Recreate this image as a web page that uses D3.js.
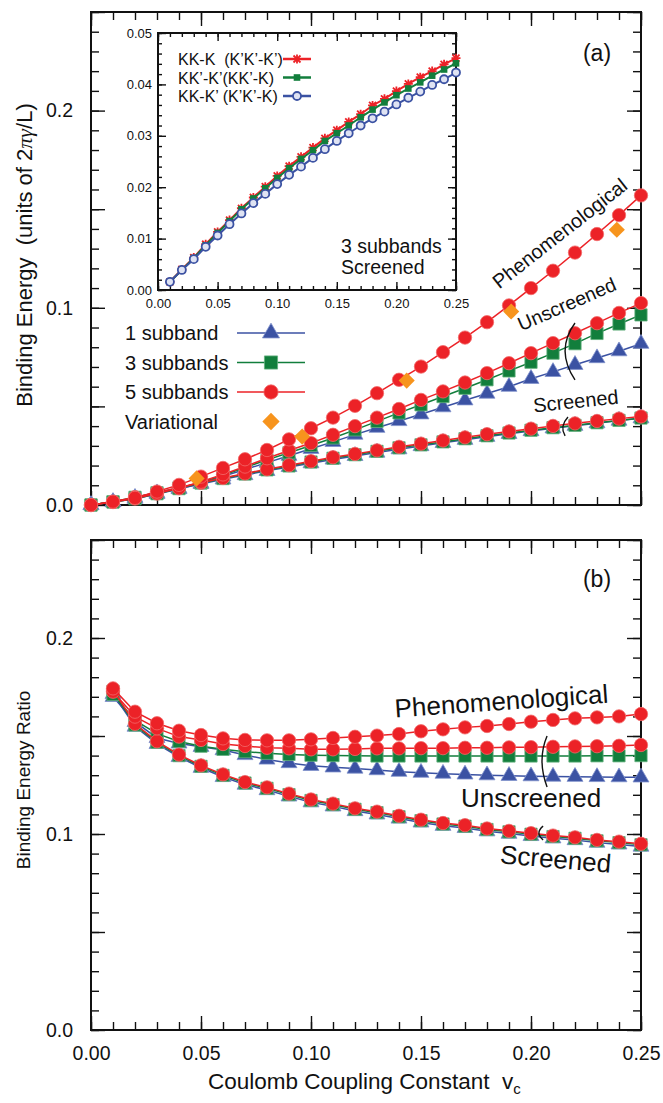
<!DOCTYPE html>
<html><head><meta charset="utf-8">
<script src="https://cdn.jsdelivr.net/npm/d3@7"></script>
<style>
body{margin:0;background:#fff}
svg{display:block}
text{white-space:pre}
</style>
</head><body>
<svg id="c" width="663" height="1103"></svg>
<script>
// ---------------- data ----------------
const vc = [0.00,0.01,0.02,0.03,0.04,0.05,0.06,0.07,0.08,0.09,0.10,0.11,0.12,0.13,0.14,0.15,0.16,0.17,0.18,0.19,0.20,0.21,0.22,0.23,0.24,0.25];
// (a) binding energy, screened
const be1Scr = [0,0.0015,0.0037,0.0060,0.0084,0.0107,0.0130,0.0152,0.0173,0.0193,0.0212,0.0231,0.0249,0.0266,0.0283,0.0299,0.0315,0.0331,0.0346,0.0361,0.0375,0.0389,0.0402,0.0415,0.0428,0.0440];
const be3Scr = [0,0.0016,0.0039,0.0062,0.0087,0.0111,0.0134,0.0157,0.0178,0.0198,0.0218,0.0237,0.0255,0.0272,0.0290,0.0305,0.0320,0.0336,0.0351,0.0365,0.0379,0.0392,0.0404,0.0417,0.0429,0.0441];
const be5Scr = [0,0.0016,0.0040,0.0063,0.0089,0.0113,0.0137,0.0160,0.0181,0.0202,0.0222,0.0242,0.0259,0.0277,0.0295,0.0311,0.0327,0.0343,0.0359,0.0373,0.0387,0.0401,0.0414,0.0426,0.0438,0.0449];
// (a) binding energy, unscreened
const be1Un = [0,0.0015,0.0032,0.0056,0.0081,0.0110,0.0145,0.0180,0.0215,0.0250,0.0285,0.0320,0.0357,0.0392,0.0426,0.0460,0.0496,0.0531,0.0565,0.0600,0.0640,0.0675,0.0711,0.0745,0.0780,0.0818];
const be3Un = [0,0.0015,0.0032,0.0057,0.0083,0.0115,0.0151,0.0190,0.0229,0.0265,0.0302,0.0340,0.0381,0.0424,0.0467,0.0508,0.0550,0.0592,0.0635,0.0680,0.0724,0.0770,0.0818,0.0870,0.0918,0.0964];
const be5Un = [0,0.0015,0.0033,0.0058,0.0085,0.0118,0.0155,0.0195,0.0237,0.0276,0.0314,0.0356,0.0400,0.0443,0.0487,0.0533,0.0576,0.0621,0.0669,0.0719,0.0770,0.0821,0.0871,0.0922,0.0974,0.1024];
// (a) phenomenological (5 subbands)
const bePhen = [0,0.0017,0.0036,0.0068,0.0102,0.0144,0.0188,0.0232,0.0279,0.0333,0.0389,0.0443,0.0503,0.0567,0.0635,0.0702,0.0775,0.0849,0.0927,0.1012,0.1100,0.1188,0.1280,0.1374,0.1470,0.1570];
// (a) variational
const varVc = [0.048,0.096,0.1435,0.191,0.239];
const varBe = [0.0135,0.0347,0.0631,0.0981,0.1396];
// inset: 3 subbands screened
const vcIn = [0.01,0.02,0.03,0.04,0.05,0.06,0.07,0.08,0.09,0.10,0.11,0.12,0.13,0.14,0.15,0.16,0.17,0.18,0.19,0.20,0.21,0.22,0.23,0.24,0.25];
const inKKK = [0.0016,0.0040,0.0063,0.0089,0.0113,0.0136,0.0159,0.0180,0.0201,0.0222,0.0241,0.0259,0.0277,0.0295,0.0311,0.0327,0.0342,0.0359,0.0372,0.0387,0.0401,0.0414,0.0426,0.0439,0.0451];
const inKKpKp = [0.0016,0.0039,0.0062,0.0087,0.0111,0.0134,0.0157,0.0178,0.0198,0.0218,0.0237,0.0255,0.0272,0.0290,0.0305,0.0320,0.0336,0.0351,0.0365,0.0379,0.0392,0.0404,0.0417,0.0429,0.0441];
const inKKKp = [0.0016,0.0039,0.0060,0.0084,0.0106,0.0128,0.0149,0.0169,0.0187,0.0206,0.0224,0.0240,0.0257,0.0274,0.0290,0.0305,0.0320,0.0334,0.0347,0.0361,0.0374,0.0386,0.0399,0.0410,0.0423];
const insetLegend = ["KK-K  (K\u2019K\u2019-K\u2019)", "KK\u2019-K\u2019(KK\u2019-K)", "KK-K\u2019 (K\u2019K\u2019-K)"];
// (b) binding energy ratio
const vcR = [0.01,0.02,0.03,0.04,0.05,0.06,0.07,0.08,0.09,0.10,0.11,0.12,0.13,0.14,0.15,0.16,0.17,0.18,0.19,0.20,0.21,0.22,0.23,0.24,0.25];
const rPhen = [0.1743,0.1624,0.1565,0.1527,0.1505,0.1488,0.1480,0.1478,0.1478,0.1483,0.1490,0.1496,0.1502,0.1510,0.1524,0.1534,0.1544,0.1551,0.1561,0.1573,0.1582,0.1590,0.1595,0.1600,0.1612];
const rUn5 = [0.1726,0.1599,0.1539,0.1497,0.1480,0.1459,0.1449,0.1440,0.1437,0.1432,0.1432,0.1434,0.1437,0.1437,0.1438,0.1438,0.1440,0.1440,0.1442,0.1443,0.1445,0.1447,0.1448,0.1450,0.1454];
const rUn3 = [0.1712,0.1580,0.1512,0.1472,0.1448,0.1432,0.1420,0.1412,0.1406,0.1402,0.1400,0.1399,0.1398,0.1398,0.1398,0.1398,0.1398,0.1398,0.1398,0.1398,0.1398,0.1398,0.1399,0.1399,0.1400];
const rUn1 = [0.1700,0.1572,0.1490,0.1462,0.1445,0.1428,0.1403,0.1380,0.1362,0.1348,0.1340,0.1334,0.1326,0.1318,0.1313,0.1308,0.1304,0.1300,0.1297,0.1295,0.1293,0.1292,0.1291,0.1290,0.1289];
const rScr5 = [0.1735,0.1562,0.1473,0.1405,0.1350,0.1304,0.1265,0.1238,0.1206,0.1176,0.1155,0.1131,0.1114,0.1093,0.1073,0.1056,0.1045,0.1028,0.1016,0.1004,0.0992,0.0983,0.0970,0.0961,0.0950];
const rScr3 = [0.1728,0.1556,0.1468,0.1400,0.1345,0.1299,0.1260,0.1233,0.1201,0.1171,0.1150,0.1126,0.1109,0.1088,0.1068,0.1051,0.1040,0.1023,0.1011,0.0999,0.0987,0.0978,0.0965,0.0956,0.0945];
const rScr1 = [0.1715,0.1548,0.1460,0.1393,0.1338,0.1291,0.1252,0.1224,0.1192,0.1162,0.1141,0.1117,0.1100,0.1079,0.1059,0.1042,0.1031,0.1014,0.1002,0.0990,0.0978,0.0969,0.0956,0.0947,0.0936];
// ticks / labels
const xMajor = [0,0.05,0.10,0.15,0.20,0.25];
const yMajor = [0,0.05,0.10,0.15,0.20,0.25];
const yLabelled = [0,0.1,0.2];
const yInMajor = [0,0.01,0.02,0.03,0.04,0.05];
const legendLabels = ["1 subband","3 subbands","5 subbands","Variational"];

// ---------------- drawing ----------------
const FONT = '"Liberation Sans", Arial, Helvetica, sans-serif';
const RED = "#ec2227", GREEN = "#127e3c", BLUE = "#3b52a3", ORANGE = "#f7941d", INK = "#111";
const svg = d3.select("#c");

const x = d3.scaleLinear().domain([0,0.25]).range([91,641]);
const yT = d3.scaleLinear().domain([0,0.25]).range([505,12]);
const yB = d3.scaleLinear().domain([0,0.25]).range([1030,540]);
const xi = d3.scaleLinear().domain([0,0.25]).range([158,456]);
const yi = d3.scaleLinear().domain([0,0.05]).range([290,33]);

const minorX = d3.range(0,0.2501,0.01);
const minorY = d3.range(0,0.2501,0.01);

function axisG(gen, tx, ty, fs){
  const g = svg.append("g").attr("transform",`translate(${tx},${ty})`).call(gen);
  g.select(".domain").remove();
  g.attr("font-family",FONT).attr("font-size",fs||19);
  g.selectAll("line").attr("stroke",INK).attr("stroke-width",1.4);
  g.selectAll("text").attr("fill",INK);
  return g;
}
const isLab = d => yLabelled.some(v => Math.abs(v-d)<1e-9);

function panelAxes(ys, xLabels){
  const y0 = ys.range()[0], y1 = ys.range()[1];
  axisG(d3.axisLeft(ys).tickValues(minorY).tickSize(-8).tickFormat(""), 91, 0);
  axisG(d3.axisLeft(ys).tickValues(yMajor).tickSize(-14).tickPadding(18).tickFormat(d=>isLab(d)?d3.format(".1f")(d):""), 91, 0, 19.5);
  axisG(d3.axisRight(ys).tickValues(minorY).tickSize(-8).tickFormat(""), 641, 0);
  axisG(d3.axisRight(ys).tickValues(yMajor).tickSize(-14).tickFormat(""), 641, 0);
  axisG(d3.axisTop(x).tickValues(minorX).tickSize(-8).tickFormat(""), 0, y1);
  axisG(d3.axisTop(x).tickValues(xMajor).tickSize(-14).tickFormat(""), 0, y1);
  axisG(d3.axisBottom(x).tickValues(minorX).tickSize(-8).tickFormat(""), 0, y0);
  axisG(d3.axisBottom(x).tickValues(xMajor).tickSize(-14).tickPadding(16)
        .tickFormat(xLabels ? d3.format(".2f") : ""), 0, y0, 19.5);
  svg.append("rect").attr("x",91).attr("y",y1).attr("width",550).attr("height",y0-y1)
     .attr("fill","none").attr("stroke",INK).attr("stroke-width",2);
}

const shapes = {
  circle:  {type:d3.symbolCircle, size:140, fill:RED, stroke:"#f26a6a", rot:0},
  square:  {type:d3.symbolSquare, size:150, fill:GREEN, stroke:"#62b07c", rot:0},
  triangle:{type:d3.symbolTriangle, size:110, fill:BLUE, stroke:"#7f91cc", rot:0},
  diamond: {type:d3.symbolSquare, size:130, fill:ORANGE, stroke:"none", rot:45}
};
function markers(xs, vals, ys, shp, xsc){
  const s = shapes[shp], sc = xsc || x;
  svg.append("g").selectAll("path").data(vals).join("path")
    .attr("transform",(d,i)=>`translate(${sc(xs[i])},${ys(d)}) rotate(${s.rot})`)
    .attr("d", d3.symbol().type(s.type).size(s.size)())
    .attr("fill", s.fill).attr("stroke", s.stroke).attr("stroke-width", 0.8);
}
function series(xs, vals, ys, color, shp){
  const line = d3.line().x((d,i)=>x(xs[i])).y(d=>ys(d));
  svg.append("path").datum(vals).attr("d",line).attr("fill","none")
     .attr("stroke",color).attr("stroke-width",1.5);
  markers(xs, vals, ys, shp);
}

// ---- panel (a) ----
panelAxes(yT, false);
series(vc, be1Scr, yT, BLUE, "triangle");
series(vc, be1Un, yT, BLUE, "triangle");
series(vc, be3Scr, yT, GREEN, "square");
series(vc, be3Un, yT, GREEN, "square");
series(vc, be5Scr, yT, RED, "circle");
series(vc, be5Un, yT, RED, "circle");
series(vc, bePhen, yT, RED, "circle");
markers(varVc, varBe, yT, "diamond");

// legend (a)
const legShapes = ["triangle","square","circle","diamond"];
const legColors = [BLUE, GREEN, RED, null];
legendLabels.forEach((lab,i)=>{
  const cy = 333 + i*29.5;
  svg.append("text").attr("x",125).attr("y",cy+7).attr("font-family",FONT)
     .attr("font-size",20).attr("fill",INK).text(lab);
  if (legColors[i]) svg.append("line").attr("x1",237).attr("x2",305).attr("y1",cy).attr("y2",cy)
     .attr("stroke",legColors[i]).attr("stroke-width",1.5);
  const s = shapes[legShapes[i]];
  svg.append("path").attr("transform",`translate(271,${cy}) rotate(${s.rot})`)
     .attr("d", d3.symbol().type(s.type).size(s.size*1.15)())
     .attr("fill",s.fill).attr("stroke",s.stroke).attr("stroke-width",0.8);
});

svg.append("text").attr("x",597).attr("y",61).attr("text-anchor","middle")
   .attr("font-family",FONT).attr("font-size",23).attr("fill",INK).text("(a)");

function rotText(txt, px, py, ang, fs){
  svg.append("text").attr("transform",`translate(${px},${py}) rotate(${ang})`)
     .attr("text-anchor","middle").attr("font-family",FONT).attr("font-size",fs)
     .attr("fill",INK).text(txt);
}
rotText("Phenomenological", x(0.215), yT(0.135), -38, 20);
rotText("Unscreened", x(0.2175), yT(0.0987), -23.5, 19.5);
rotText("Screened", x(0.2207), yT(0.0492), -6, 20);

function bracket(xt, yt_, xl, ym, xb, yb_){
  const cx = 2*xl - (xt+xb)/2;
  svg.append("path").attr("d",`M${xt},${yt_} Q${cx},${ym} ${xb},${yb_}`)
     .attr("fill","none").attr("stroke",INK).attr("stroke-width",1.4);
}
bracket(x(0.2200), yT(0.0923), x(0.2155), yT(0.0786), x(0.2200), yT(0.0634));
bracket(x(0.2168), yT(0.0446), x(0.2145), yT(0.0398), x(0.2155), yT(0.0350));

// y label (a)
const yl = svg.append("text").attr("transform","translate(32,255) rotate(-90)")
   .attr("text-anchor","middle").attr("font-family",FONT).attr("font-size",22).attr("fill",INK);
yl.append("tspan").text("Binding Energy  (units of 2");
yl.append("tspan").attr("font-family",'"Liberation Serif", serif').attr("font-style","italic").text("\u03c0\u03b3");
yl.append("tspan").text("/L)");

// ---- inset ----
svg.append("rect").attr("x",158).attr("y",33).attr("width",298).attr("height",257).attr("fill","#fff");
const inMinorX = d3.range(0,0.2501,0.01), inMinorY = d3.range(0,0.05001,0.002);
axisG(d3.axisBottom(xi).tickValues(inMinorX).tickSize(-4).tickFormat(""),0,290);
axisG(d3.axisBottom(xi).tickValues(xMajor).tickSize(-8).tickPadding(9).tickFormat(d3.format(".2f")),0,290,13);
axisG(d3.axisTop(xi).tickValues(inMinorX).tickSize(-4).tickFormat(""),0,33);
axisG(d3.axisTop(xi).tickValues(xMajor).tickSize(-8).tickFormat(""),0,33);
axisG(d3.axisLeft(yi).tickValues(inMinorY).tickSize(-4).tickFormat(""),158,0);
axisG(d3.axisLeft(yi).tickValues(yInMajor).tickSize(-8).tickPadding(6).tickFormat(d3.format(".2f")),158,0,13);
axisG(d3.axisRight(yi).tickValues(inMinorY).tickSize(-4).tickFormat(""),456,0);
axisG(d3.axisRight(yi).tickValues(yInMajor).tickSize(-8).tickFormat(""),456,0);
svg.append("rect").attr("x",158).attr("y",33).attr("width",298).attr("height",257)
   .attr("fill","none").attr("stroke",INK).attr("stroke-width",2);

const star = "M-3.5,-3.5L3.5,3.5M-3.5,3.5L3.5,-3.5M0,-4.5L0,4.5M-4.5,0L4.5,0";
function inMark(g, kind){
  if (kind==="star") g.append("path").attr("d",star).attr("stroke",RED).attr("stroke-width",1.8).attr("fill","none");
  else if (kind==="sq") g.append("rect").attr("x",-3.3).attr("y",-3.3).attr("width",6.6).attr("height",6.6).attr("fill",GREEN);
  else g.append("circle").attr("r",4).attr("fill","#dfe3f3").attr("stroke",BLUE).attr("stroke-width",1.8);
}
const inSeries = [[inKKK,RED,"star"],[inKKpKp,GREEN,"sq"],[inKKKp,BLUE,"circ"]];
inSeries.forEach(([vals,col,kind])=>{
  const line = d3.line().x((d,i)=>xi(vcIn[i])).y(d=>yi(d));
  svg.append("path").datum(vals).attr("d",line).attr("fill","none").attr("stroke",col).attr("stroke-width",2);
  vals.forEach((d,i)=>{ inMark(svg.append("g").attr("transform",`translate(${xi(vcIn[i])},${yi(d)})`), kind); });
});
insetLegend.forEach((lab,i)=>{
  const cy = 59 + i*18.5;
  svg.append("text").attr("x",178).attr("y",cy+6).attr("font-family",FONT).attr("font-size",16).attr("fill",INK).text(lab);
  svg.append("line").attr("x1",283).attr("x2",311).attr("y1",cy).attr("y2",cy).attr("stroke",inSeries[i][1]).attr("stroke-width",2.5);
  inMark(svg.append("g").attr("transform",`translate(297,${cy})`), inSeries[i][2]);
});
svg.append("text").attr("x",341).attr("y",253).attr("font-family",FONT).attr("font-size",19.5).attr("fill",INK).text("3 subbands");
svg.append("text").attr("x",341).attr("y",274).attr("font-family",FONT).attr("font-size",19.5).attr("fill",INK).text("Screened");

// ---- panel (b) ----
panelAxes(yB, true);
series(vcR, rScr1, yB, BLUE, "triangle");
series(vcR, rUn1, yB, BLUE, "triangle");
series(vcR, rScr3, yB, GREEN, "square");
series(vcR, rUn3, yB, GREEN, "square");
series(vcR, rScr5, yB, RED, "circle");
series(vcR, rUn5, yB, RED, "circle");
series(vcR, rPhen, yB, RED, "circle");

svg.append("text").attr("x",597).attr("y",587).attr("text-anchor","middle")
   .attr("font-family",FONT).attr("font-size",23).attr("fill",INK).text("(b)");
rotText("Phenomenological", 502, 710, -4, 26);
rotText("Unscreened", 531, 807, 0, 26);
rotText("Screened", 555, 868, 5, 26);
bracket(x(0.2073), yB(0.1500), x(0.2050), yB(0.1378), x(0.2073), yB(0.1240));
bracket(x(0.2055), yB(0.1040), x(0.2036), yB(0.1005), x(0.2055), yB(0.0970));

svg.append("text").attr("transform","translate(30,780) rotate(-90)").attr("text-anchor","middle")
   .attr("font-family",FONT).attr("font-size",19).attr("fill",INK).text("Binding Energy Ratio");

const xt = svg.append("text").attr("x",208).attr("y",1089).attr("font-family",FONT)
   .attr("font-size",22.5).attr("fill",INK);
xt.append("tspan").text("Coulomb Coupling Constant  v");
xt.append("tspan").attr("font-size",15).attr("dy",5).text("c");
</script>
</body></html>
